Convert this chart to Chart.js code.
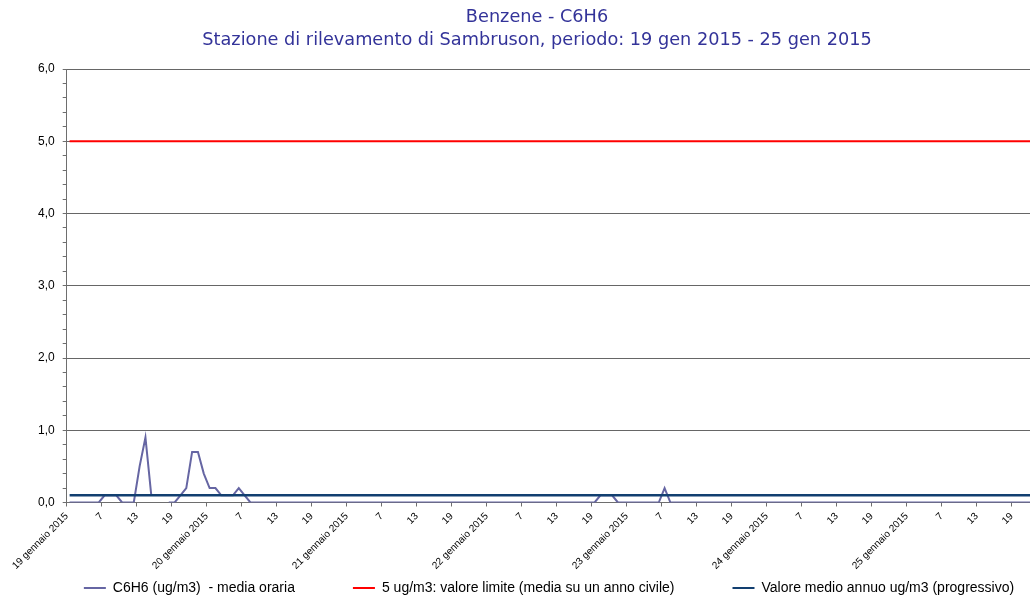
<!DOCTYPE html>
<html>
<head>
<meta charset="utf-8">
<script src="https://cdn.jsdelivr.net/npm/chart.js@4.4.1/dist/chart.umd.min.js"></script>
<style>
  html, body { margin: 0; padding: 0; overflow: hidden; background: #ffffff; }
  canvas { display: block; }
</style>
</head>
<body>
<canvas id="c" width="1074" height="596"></canvas>
<script>
// ---- data (hourly, 19 gen 2015 01:00 onwards) ----
const titleLines = ['Benzene - C6H6', 'Stazione di rilevamento di Sambruson, periodo: 19 gen 2015 - 25 gen 2015'];
const dayLabels = ['19 gennaio 2015', '20 gennaio 2015', '21 gennaio 2015', '22 gennaio 2015', '23 gennaio 2015', '24 gennaio 2015', '25 gennaio 2015'];
const hourLabels = ['7', '13', '19'];
const seriesNames = ['C6H6 (ug/m3)  - media oraria', '5 ug/m3: valore limite (media su un anno civile)', 'Valore medio annuo ug/m3 (progressivo)'];
const benzene = [
  0,0,0,0,0,0,0.1,0.1,0.1,0,0,0,0.5,0.9,0.1,null,null,0,0,0.1,0.2,0.7,0.7,0.4,
  0.2,0.2,0.1,0.1,0.1,0.2,0.1,0,0,0,0,0,0,0,0,0,0,0,0,0,0,0,0,0,
  0,0,0,0,0,0,0,0,0,0,0,0,0,0,0,0,0,0,0,0,0,0,0,0,
  0,0,0,0,0,0,0,0,0,0,0,0,0,0,0,0,0,0,0,0.1,0.1,0.1,0,0,
  0,0,0,0,0,0,0.2,0,0,0,0,0,0,0,0,0,0,0,0,0,0,0,0,0,
  0,0,0,0,0,0,0,0,0,0,0,0,0,0,0,0,0,0,0,0,0,0,0,0,
  0,0,0,0,0,0,0,0,0,0,0,0,0,0,0,0,0,0,0,0,0,0
];
const limitValue = 5.0;
const annualMean = 0.1;
const yTickValues = [0, 1, 2, 3, 4, 5, 6];

// ---- build datasets ----
const toPoints = arr => arr.map((v, i) => ({ x: i + 0.5, y: v }));
const limitSeries = benzene.map(() => limitValue);
const meanSeries = benzene.map(() => annualMean);

Chart.defaults.font.family = "'Liberation Sans', Arial, sans-serif";
Chart.defaults.color = '#000';

const isMajor = v => Math.abs(v - Math.round(v)) < 1e-6;
const baseGen = Chart.defaults.plugins.legend.labels.generateLabels;

// move the legend row to its place below the rotated axis labels
const legendPlace = {
  id: 'legendPlace',
  afterLayout(chart) {
    const lg = chart.legend;
    if (!lg) return;
    lg.top -= 47.5; lg.bottom -= 47.5;
    lg.left += 12; lg.right += 12;
  }
};

new Chart(document.getElementById('c'), {
  type: 'line',
  data: {
    datasets: [
      { label: seriesNames[0], data: toPoints(benzene), borderColor: '#6666a3', backgroundColor: '#6666a3',
        borderWidth: 2, pointRadius: 0, tension: 0, spanGaps: false, order: 2 },
      { label: seriesNames[1], data: toPoints(limitSeries), borderColor: '#ff0000', backgroundColor: '#ff0000',
        borderWidth: 2, pointRadius: 0, tension: 0, order: 1 },
      { label: seriesNames[2], data: toPoints(meanSeries), borderColor: '#123f70', backgroundColor: '#123f70',
        borderWidth: 2.6, pointRadius: 0, tension: 0, order: 0 }
    ]
  },
  plugins: [legendPlace],
  options: {
    responsive: false,
    animation: false,
    events: [],
    layout: { padding: { top: 0, left: 0, right: 0, bottom: -56.5 } },
    plugins: {
      tooltip: { enabled: false },
      title: {
        display: true,
        text: titleLines,
        color: '#333399',
        font: { family: "'DejaVu Sans', sans-serif", size: 17.7, weight: 'normal', lineHeight: '23px' },
        padding: { top: 6, bottom: 17 }
      },
      legend: {
        position: 'bottom',
        labels: {
          font: { size: 14 },
          color: '#000',
          boxWidth: 22,
          boxHeight: 2,
          padding: 58,
          sort: (a, b) => a.datasetIndex - b.datasetIndex,
          generateLabels: chart => baseGen(chart).map(it => Object.assign(it, { lineWidth: 0, fillStyle: it.strokeStyle }))
        }
      }
    },
    scales: {
      x: {
        type: 'linear',
        min: 0,
        max: 166,
        border: { color: '#6e6e6e', width: 1 },
        grid: { drawOnChartArea: false, drawTicks: true, tickLength: 4, color: '#6e6e6e' },
        ticks: {
          stepSize: 6,
          includeBounds: false,
          autoSkip: false,
          maxRotation: 45,
          minRotation: 45,
          padding: 4,
          font: { size: 10 },
          color: '#000',
          callback: v => (v % 24 === 0 ? dayLabels[v / 24] : hourLabels[(v % 24) / 6 - 1])
        },
        afterFit: s => { s.height = 68; s.paddingLeft = 0; s.paddingRight = 0; }
      },
      y: {
        min: 0,
        max: 6,
        border: { color: '#6e6e6e', width: 1 },
        grid: {
          color: c => (c.tick && isMajor(c.tick.value) ? '#666666' : 'rgba(0,0,0,0)'),
          tickColor: '#6e6e6e',
          tickLength: 4,
          lineWidth: 1
        },
        ticks: {
          stepSize: 0.2,
          autoSkip: false,
          padding: 8,
          font: { size: 12 },
          color: '#000',
          callback: v => (isMajor(v) && yTickValues.includes(Math.round(v)) ? Math.round(v).toFixed(1).replace('.', ',') : '')
        },
        afterFit: s => { s.width = 66.7; }
      },
      y2: {
        position: 'right',
        display: true,
        grid: { display: false },
        border: { display: false },
        ticks: { display: false },
        afterFit: s => { s.width = 39; }
      }
    }
  }
});
</script>
</body>
</html>
